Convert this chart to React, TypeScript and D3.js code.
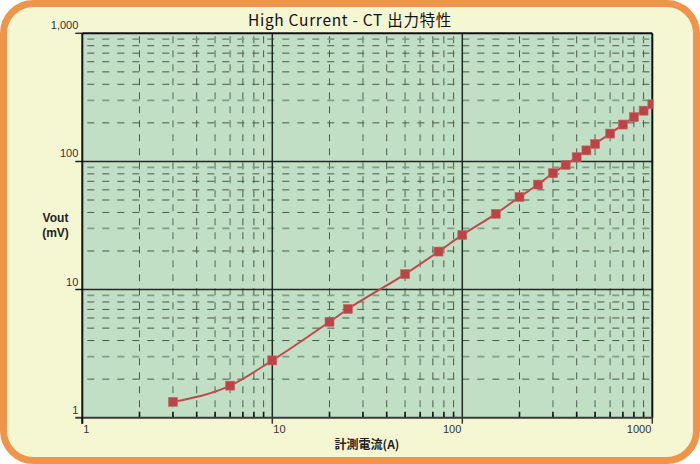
import { useEffect, useRef } from 'react'
import * as d3 from 'd3'

// measured current (A) and CT output (mV)
const currentA = [3, 6, 10, 20, 25, 50, 75, 100, 150, 200, 250, 300, 350, 400, 450, 500, 600, 700, 800, 900, 1000]
const voutMv = [1.33, 1.78, 2.8, 5.6, 7.05, 13.2, 19.8, 26.7, 39, 52.8, 66, 81, 94, 108, 122, 137, 165, 194, 222, 249, 279]

const xTickLabels = ['1', '10', '100', '1000']
const yTickLabels = ['1', '10', '100', '1,000']
const decades = [1, 10, 100, 1000]

const W = 700
const H = 464

export default function App() {
  const svgRef = useRef<SVGSVGElement>(null)

  useEffect(() => {
    if (!svgRef.current) return
    const svg = d3.select(svgRef.current)
    svg.selectAll('*').remove()

    const left = 82.3, right = 652.3, top = 33.3, bottom = 417.7
    const x = d3.scaleLog().domain([1, 1000]).range([left, right])
    const y = d3.scaleLog().domain([1, 1000]).range([bottom, top])

    // frame
    svg.append('rect')
      .attr('x', 3.5).attr('y', 3.5)
      .attr('width', W - 7).attr('height', H - 7)
      .attr('rx', 30).attr('ry', 30)
      .attr('fill', '#f5f6d2')
      .attr('stroke', '#f0944b')
      .attr('stroke-width', 7)

    // title
    svg.append('text')
      .attr('x', 350).attr('y', 26)
      .attr('text-anchor', 'middle')
      .attr('font-family', '"Noto Sans CJK JP", sans-serif')
      .attr('font-size', 15.5)
      .attr('letter-spacing', 0.7)
      .attr('fill', '#111')
      .text('High Current - CT 出力特性')

    // plot background
    svg.append('rect')
      .attr('x', left).attr('y', top)
      .attr('width', right - left).attr('height', bottom - top)
      .attr('fill', '#c0dfc4')

    const minors: number[] = []
    decades.slice(0, 3).forEach(d => {
      for (let m = 2; m <= 9; m++) minors.push(m * d)
    })
    const mant = (d: number) => Math.round(d / Math.pow(10, Math.floor(Math.log10(d) + 1e-9)))

    const grid = svg.append('g')

    // vertical minor grid
    grid.selectAll('.vminor')
      .data(minors)
      .enter()
      .append('line')
      .attr('x1', d => x(d)).attr('x2', d => x(d))
      .attr('y1', top).attr('y2', bottom)
      .attr('stroke', d => [3, 5, 6].includes(mant(d)) ? '#849c88' : '#4a5a4c')
      .attr('stroke-width', d => [3, 5, 6].includes(mant(d)) ? 1.8 : 1)
      .attr('stroke-dasharray', '7,7')
      .attr('stroke-dashoffset', -3)

    // horizontal minor grid
    grid.selectAll('.hminor')
      .data(minors)
      .enter()
      .append('line')
      .attr('x1', left).attr('x2', right)
      .attr('y1', d => y(d)).attr('y2', d => y(d))
      .attr('stroke', d => [3, 9].includes(mant(d)) ? '#849c88' : '#4a5a4c')
      .attr('stroke-width', d => [3, 9].includes(mant(d)) ? 1.8 : 1)
      .attr('stroke-dasharray', '7,8')
      .attr('stroke-dashoffset', -5)

    // major grid
    grid.selectAll('.vmajor')
      .data([10, 100])
      .enter()
      .append('line')
      .attr('x1', d => x(d)).attr('x2', d => x(d))
      .attr('y1', top).attr('y2', bottom)
      .attr('stroke', '#1e2a20')
      .attr('stroke-width', 1.5)

    grid.selectAll('.hmajor')
      .data([10, 100])
      .enter()
      .append('line')
      .attr('x1', left - 7).attr('x2', right)
      .attr('y1', d => y(d)).attr('y2', d => y(d))
      .attr('stroke', '#1e2a20')
      .attr('stroke-width', 1.5)

    // minor ticks inside bottom axis
    grid.selectAll('.mtick')
      .data(minors)
      .enter()
      .append('line')
      .attr('x1', d => x(d)).attr('x2', d => x(d))
      .attr('y1', bottom - 6).attr('y2', bottom)
      .attr('stroke', '#111')
      .attr('stroke-width', 1.6)

    // major ticks below bottom axis
    grid.selectAll('.xtick')
      .data(decades)
      .enter()
      .append('line')
      .attr('x1', d => x(d)).attr('x2', d => x(d))
      .attr('y1', bottom).attr('y2', bottom + 6)
      .attr('stroke', '#333')
      .attr('stroke-width', 1.5)

    // frame lines
    svg.append('line')
      .attr('x1', left).attr('x2', right)
      .attr('y1', top).attr('y2', top)
      .attr('stroke', '#111').attr('stroke-width', 2)
    svg.append('line')
      .attr('x1', left - 7).attr('x2', left)
      .attr('y1', top).attr('y2', top)
      .attr('stroke', '#333').attr('stroke-width', 1.5)
    svg.append('line')
      .attr('x1', right).attr('x2', right)
      .attr('y1', top).attr('y2', bottom)
      .attr('stroke', '#111').attr('stroke-width', 2)
    svg.append('line')
      .attr('x1', left - 7).attr('x2', right)
      .attr('y1', bottom).attr('y2', bottom)
      .attr('stroke', '#3a3a3a').attr('stroke-width', 2)
    svg.append('line')
      .attr('x1', left).attr('x2', left)
      .attr('y1', top).attr('y2', bottom + 6)
      .attr('stroke', '#111').attr('stroke-width', 2)

    // tick labels
    const labelFont = '"Liberation Sans", Arial, sans-serif'
    svg.selectAll('.ylab')
      .data(decades)
      .enter()
      .append('text')
      .attr('x', left - 4)
      .attr('y', d => y(d) - 4)
      .attr('text-anchor', 'end')
      .attr('font-family', labelFont)
      .attr('font-size', 11)
      .attr('fill', '#333')
      .text((d, i) => yTickLabels[i])

    svg.selectAll('.xlab')
      .data(decades)
      .enter()
      .append('text')
      .attr('x', d => (d < 100 ? x(d) + 1 : x(d) - 1))
      .attr('y', bottom + 15)
      .attr('text-anchor', d => (d < 100 ? 'start' : 'end'))
      .attr('font-family', labelFont)
      .attr('font-size', 11)
      .attr('fill', '#333')
      .text((d, i) => xTickLabels[i])

    // axis titles
    svg.append('text')
      .attr('x', 367).attr('y', 449)
      .attr('text-anchor', 'middle')
      .attr('font-family', '"Noto Sans CJK JP", sans-serif')
      .attr('font-weight', 'bold')
      .attr('font-size', 12)
      .attr('fill', '#222')
      .text('計測電流(A)')

    const yt = svg.append('text')
      .attr('text-anchor', 'middle')
      .attr('font-family', labelFont)
      .attr('font-weight', 'bold')
      .attr('font-size', 12)
      .attr('fill', '#222')
    yt.append('tspan').attr('x', 55.5).attr('y', 222).text('Vout')
    yt.append('tspan').attr('x', 55.5).attr('y', 236.5).text('(mV)')

    // series
    const data = currentA.map((c, i) => ({ c, v: voutMv[i] }))
    const line = d3.line<{ c: number; v: number }>()
      .x(d => x(d.c))
      .y(d => y(d.v))
      .curve(d3.curveMonotoneX)

    const clip = svg.append('clipPath').attr('id', 'plotclip')
    clip.append('rect')
      .attr('x', left).attr('y', top)
      .attr('width', right - left + 1).attr('height', bottom - top)

    const series = svg.append('g').attr('clip-path', 'url(#plotclip)')
    series.append('path')
      .datum(data)
      .attr('fill', 'none')
      .attr('stroke', '#c1494b')
      .attr('stroke-width', 2)
      .attr('d', line)

    series.selectAll('.pt')
      .data(data)
      .enter()
      .append('rect')
      .attr('x', d => x(d.c) - 4.5)
      .attr('y', d => y(d.v) - 4.5)
      .attr('width', 9).attr('height', 9)
      .attr('fill', '#bb4446')
      .attr('stroke', '#c96a68')
      .attr('stroke-width', 0.6)
  }, [])

  return (
    <svg
      ref={svgRef}
      width={W}
      height={H}
      style={{ position: 'absolute', left: 0, top: 0, background: '#fff' }}
    />
  )
}
